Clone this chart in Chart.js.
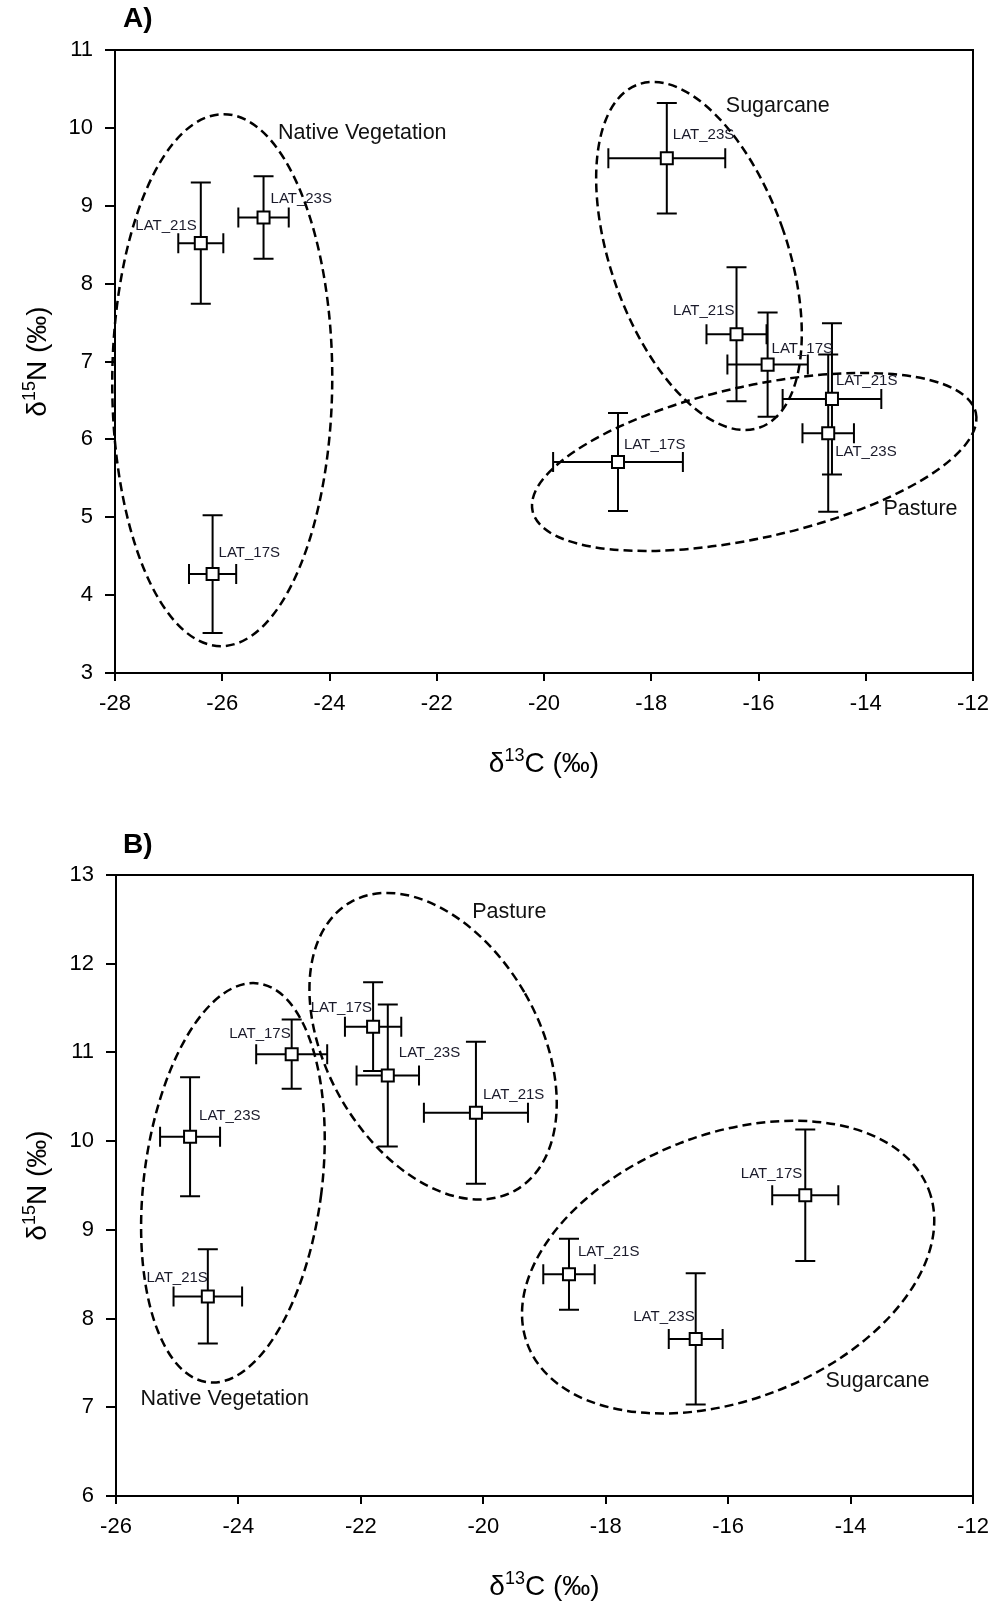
<!DOCTYPE html>
<html>
<head>
<meta charset="utf-8">
<script src="https://cdn.jsdelivr.net/npm/chart.js@4.4.1/dist/chart.umd.min.js"></script>
<style>
  body { margin: 0; background: #fff; }
  canvas { position: absolute; left: 0; }
</style>
</head>
<body>
<canvas id="chartA" width="995" height="800" style="top:0;width:995px;height:800px"></canvas>
<canvas id="chartB" width="995" height="802" style="top:800px;width:995px;height:802px"></canvas>
<script>
// ---- Panel A data ----
var sitesA = ["LAT_21S", "LAT_23S", "LAT_17S", "LAT_23S", "LAT_21S", "LAT_17S", "LAT_21S", "LAT_23S", "LAT_17S"];
var landUseA = ["Native Vegetation", "Native Vegetation", "Native Vegetation", "Sugarcane", "Sugarcane", "Sugarcane", "Pasture", "Pasture", "Pasture"];
var d13cA = [-26.40, -25.23, -26.18, -17.71, -16.41, -15.83, -14.63, -14.70, -18.62];
var d15nA = [8.52, 8.85, 4.27, 9.61, 7.35, 6.96, 6.52, 6.08, 5.71];
var d13cErrA = [0.42, 0.47, 0.44, 1.09, 0.56, 0.75, 0.92, 0.48, 1.21];
var d15nErrA = [0.78, 0.53, 0.755, 0.71, 0.86, 0.67, 0.97, 1.01, 0.63];

// ---- Panel B data ----
var sitesB = ["LAT_23S", "LAT_17S", "LAT_21S", "LAT_17S", "LAT_23S", "LAT_21S", "LAT_17S", "LAT_21S", "LAT_23S"];
var landUseB = ["Native Vegetation", "Native Vegetation", "Native Vegetation", "Pasture", "Pasture", "Pasture", "Sugarcane", "Sugarcane", "Sugarcane"];
var d13cB = [-24.79, -23.13, -24.50, -21.80, -21.56, -20.12, -14.74, -18.60, -16.53];
var d15nB = [10.05, 10.98, 8.25, 11.29, 10.74, 10.32, 9.39, 8.50, 7.77];
var d13cErrB = [0.49, 0.58, 0.56, 0.46, 0.51, 0.85, 0.54, 0.42, 0.44];
var d15nErrB = [0.67, 0.39, 0.53, 0.50, 0.80, 0.80, 0.74, 0.40, 0.74];

// axis ranges
var xRangeA = [-28, -12], yRangeA = [3, 11];
var xRangeB = [-26, -12], yRangeB = [6, 13];

// label placement (pixel offset from the point, alignment)
var labelPosA = [[-4, -17, "right"], [7, -19, "left"], [6, -21, "left"], [6, -23, "left"], [-2, -23, "right"],
                 [4, -16, "left"], [4, -18, "left"], [7, 19, "left"], [6, -17, "left"]];
var labelPosB = [[9, -21, "left"], [-1, -20, "right"], [0, -19, "right"], [-1, -19, "right"], [11, -23, "left"],
                 [7, -18, "left"], [-3, -21, "right"], [9, -22, "left"], [-1, -22, "right"]];

// group outlines: centre in data units, semi-axes in px, rotation in degrees
var outlinesA = [
  {cx: -26.0, cy: 6.76, rx: 110, ry: 266, rot: 0.3},
  {cx: -17.11, cy: 8.355, rx: 88, ry: 182, rot: -19.5},
  {cx: -16.08, cy: 5.71, rx: 227, ry: 76, rot: -12.5}
];
var outlinesB = [
  {cx: -24.09, cy: 9.53, rx: 89, ry: 201, rot: 7.2},
  {cx: -20.82, cy: 11.07, rx: 106, ry: 166, rot: -29.9},
  {cx: -16.0, cy: 8.58, rx: 215, ry: 133, rot: -21.2}
];
var groupTextA = [["Native Vegetation", -24.96, 9.93], ["Sugarcane", -16.61, 10.28], ["Pasture", -13.67, 5.10]];
var groupTextB = [["Pasture", -20.18, 12.58], ["Native Vegetation", -25.60, 7.09], ["Sugarcane", -14.41, 7.29]];

var FONT = "Arial, 'Liberation Sans', sans-serif";

function drawTitle(ctx, x, y, sup, rest, rotate) {
  ctx.save();
  ctx.translate(x, y);
  if (rotate) ctx.rotate(-Math.PI / 2);
  var big = "28px " + FONT, small = "18px " + FONT;
  ctx.font = big;
  var w1 = ctx.measureText("δ").width, w3 = ctx.measureText(rest).width;
  ctx.font = small;
  var w2 = ctx.measureText(sup).width;
  var sx = -(w1 + w2 + w3) / 2;
  ctx.fillStyle = "#000";
  ctx.textAlign = "left";
  ctx.textBaseline = "alphabetic";
  ctx.font = big; ctx.fillText("δ", sx, 10); sx += w1;
  ctx.font = small; ctx.fillText(sup, sx, -1); sx += w2;
  ctx.font = big; ctx.fillText(rest, sx, 10);
  ctx.restore();
}

function makeDecor(d) {
  return {
    id: "decor",
    beforeDatasetsDraw: function (chart) {
      var ctx = chart.ctx, a = chart.chartArea, xs = chart.scales.x, ys = chart.scales.y;
      ctx.save();
      ctx.strokeStyle = "#000";
      ctx.lineWidth = 2;
      ctx.beginPath();
      ctx.moveTo(a.left, a.top); ctx.lineTo(a.right, a.top); ctx.lineTo(a.right, a.bottom);
      ctx.stroke();

      ctx.lineWidth = 2.5;
      ctx.setLineDash([9, 5]);
      d.outlines.forEach(function (e) {
        ctx.beginPath();
        ctx.ellipse(xs.getPixelForValue(e.cx), ys.getPixelForValue(e.cy), e.rx, e.ry, e.rot * Math.PI / 180, 0, 2 * Math.PI);
        ctx.stroke();
      });
      ctx.setLineDash([]);

      ctx.lineWidth = 2;
      var cap = 10;
      d.x.forEach(function (v, i) {
        var px = xs.getPixelForValue(v), py = ys.getPixelForValue(d.y[i]);
        var x1 = xs.getPixelForValue(v - d.xe[i]), x2 = xs.getPixelForValue(v + d.xe[i]);
        var y1 = ys.getPixelForValue(d.y[i] + d.ye[i]), y2 = ys.getPixelForValue(d.y[i] - d.ye[i]);
        ctx.beginPath();
        ctx.moveTo(x1, py); ctx.lineTo(x2, py);
        ctx.moveTo(x1, py - cap); ctx.lineTo(x1, py + cap);
        ctx.moveTo(x2, py - cap); ctx.lineTo(x2, py + cap);
        ctx.moveTo(px, y1); ctx.lineTo(px, y2);
        ctx.moveTo(px - cap, y1); ctx.lineTo(px + cap, y1);
        ctx.moveTo(px - cap, y2); ctx.lineTo(px + cap, y2);
        ctx.stroke();
      });
      ctx.restore();
    },
    afterDatasetsDraw: function (chart) {
      var ctx = chart.ctx, xs = chart.scales.x, ys = chart.scales.y;
      ctx.save();
      ctx.textBaseline = "middle";
      ctx.fillStyle = "#1a1a2a";
      ctx.font = "15px " + FONT;
      d.sites.forEach(function (s, i) {
        var p = d.labelPos[i];
        ctx.textAlign = p[2];
        ctx.fillText(s, xs.getPixelForValue(d.x[i]) + p[0], ys.getPixelForValue(d.y[i]) + p[1]);
      });
      ctx.fillStyle = "#111";
      ctx.font = "21.5px " + FONT;
      ctx.textAlign = "left";
      d.groups.forEach(function (g) {
        ctx.fillText(g[0], xs.getPixelForValue(g[1]), ys.getPixelForValue(g[2]));
      });
      ctx.restore();
    },
    afterDraw: function (chart) {
      var ctx = chart.ctx, a = chart.chartArea;
      ctx.save();
      ctx.fillStyle = "#000";
      ctx.font = "bold 28px " + FONT;
      ctx.textAlign = "left";
      ctx.textBaseline = "middle";
      ctx.fillText(d.panel, 123, d.panelY);
      ctx.restore();
      drawTitle(ctx, (a.left + a.right) / 2, d.xTitleY, "13", "C (‰)", false);
      drawTitle(ctx, 36, (a.top + a.bottom) / 2, "15", "N (‰)", true);
    }
  };
}

function makeChart(id, d) {
  var pts = d.x.map(function (v, i) { return {x: v, y: d.y[i]}; });
  var tickFont = {family: FONT, size: 22};
  return new Chart(id, {
    type: "scatter",
    data: {
      datasets: [{
        data: pts,
        pointStyle: "rect",
        pointRadius: 8.5,
        pointHoverRadius: 8.5,
        pointBackgroundColor: "#fff",
        pointBorderColor: "#000",
        pointBorderWidth: 2
      }]
    },
    options: {
      responsive: false,
      animation: false,
      layout: {padding: {top: d.top, right: 22, left: 0, bottom: 0}},
      plugins: {legend: {display: false}, tooltip: {enabled: false}},
      scales: {
        x: {
          type: "linear", min: d.xRange[0], max: d.xRange[1],
          ticks: {stepSize: 2, color: "#000", font: tickFont, padding: 10, maxRotation: 0, autoSkip: false},
          grid: {drawOnChartArea: false, drawTicks: true, tickLength: 8, color: "#000", lineWidth: 2},
          border: {color: "#000", width: 2},
          afterFit: function (s) { s.height = d.xAxisH; s.paddingLeft = 0; s.paddingRight = 0; }
        },
        y: {
          type: "linear", min: d.yRange[0], max: d.yRange[1],
          ticks: {stepSize: 1, color: "#000", font: tickFont, padding: 12, autoSkip: false},
          grid: {drawOnChartArea: false, drawTicks: true, tickLength: 10, color: "#000", lineWidth: 2},
          border: {color: "#000", width: 2},
          afterFit: function (s) { s.width = d.yAxisW; s.paddingTop = 0; s.paddingBottom = 0; }
        }
      }
    },
    plugins: [makeDecor(d)]
  });
}

makeChart("chartA", {
  x: d13cA, y: d15nA, xe: d13cErrA, ye: d15nErrA, sites: sitesA, labelPos: labelPosA,
  outlines: outlinesA, groups: groupTextA, xRange: xRangeA, yRange: yRangeA,
  top: 50, xAxisH: 127, yAxisW: 115, panel: "A)", panelY: 19, xTitleY: 762
});

makeChart("chartB", {
  x: d13cB, y: d15nB, xe: d13cErrB, ye: d15nErrB, sites: sitesB, labelPos: labelPosB,
  outlines: outlinesB, groups: groupTextB, xRange: xRangeB, yRange: yRangeB,
  top: 75, xAxisH: 106, yAxisW: 116, panel: "B)", panelY: 45, xTitleY: 785
});
</script>
</body>
</html>
